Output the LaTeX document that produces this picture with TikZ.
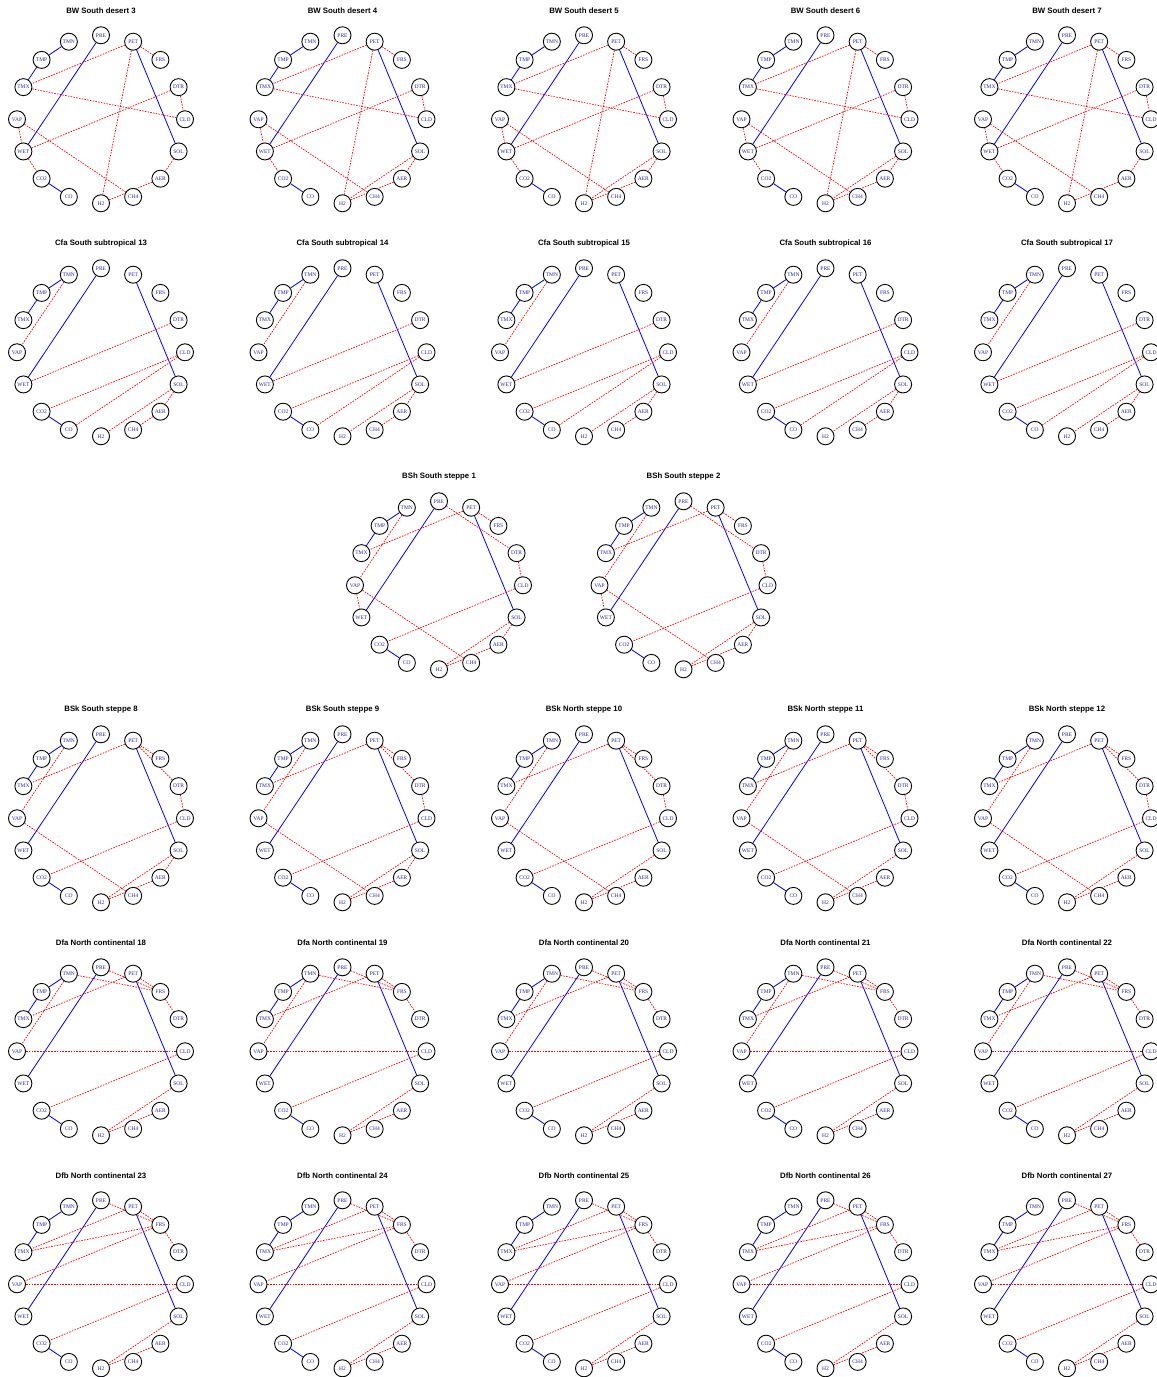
\documentclass[tikz,border=0pt]{standalone}
\usepackage{fontspec}
\setmainfont{Liberation Serif}
\newfontfamily\titlefont{Liberation Sans}
\pgfdeclarelayer{edges}
\pgfsetlayers{edges,main}
\definecolor{lbl}{RGB}{40,40,170}
\tikzset{
 vnode/.style={circle,draw=black,line width=0.9pt,fill=white,minimum size=17pt,inner sep=0pt,font=\fontsize{5.5}{6}\selectfont,text=lbl},
 bedge/.style={draw=blue,line width=0.8pt},
 redge/.style={draw=red,line width=0.7pt,dash pattern=on 1.6pt off 1.2pt},
 ptitle/.style={font=\titlefont\bfseries\fontsize{7.8}{9}\selectfont,inner sep=0pt}
}
\def\blu{TMN/TMP,TMP/TMX,PRE/WET,PET/SOL,CO2/CO}
\def\redDa{PET/TMX,TMX/CLD,PET/FRS,PET/H2,DTR/CLD,DTR/WET,VAP/WET,VAP/CH4,WET/CO2,SOL/AER,AER/H2}
\def\redDb{PET/TMX,TMX/CLD,PET/FRS,PET/H2,DTR/CLD,DTR/WET,VAP/WET,VAP/CH4,WET/CO2,SOL/H2,SOL/AER,AER/H2}
\def\redC{TMN/VAP,DTR/WET,CLD/CO2,CLD/CO,SOL/H2,SOL/AER,AER/CH4}
\def\redH{TMN/VAP,PET/TMX,PRE/DTR,PET/FRS,DTR/CLD,VAP/WET,VAP/CH4,CLD/CO2,SOL/H2,SOL/AER,AER/H2}
\def\redKa{TMN/VAP,PET/TMX,PET/FRS,PET/DTR,DTR/CLD,VAP/CH4,CLD/CO2,SOL/H2,SOL/AER,AER/H2}
\def\redKb{TMN/VAP,PET/TMX,PET/FRS,PET/DTR,DTR/CLD,VAP/CH4,CLD/CO2,SOL/H2,AER/H2}
\def\redFa{TMN/FRS,PRE/FRS,PET/TMX,PET/FRS,FRS/DTR,TMN/VAP,VAP/CLD,CLD/CO2,SOL/H2,AER/H2}
\def\redFb{PRE/FRS,PET/TMX,FRS/TMX,FRS/VAP,PET/FRS,FRS/DTR,VAP/CLD,CLD/CO2,SOL/H2,AER/H2}
\newcommand\gpanel[6]{%
 \begin{scope}[shift={(#2,{1377-#3})}]
  \node[ptitle] (#1title) at (0,109) {#4};
  \foreach \n/\a in {PRE/90,PET/67.5,FRS/45,DTR/22.5,CLD/0,SOL/-22.5,AER/-45,CH4/-67.5,H2/-90,CO/-112.5,CO2/-135,WET/-157.5,VAP/180,TMX/157.5,TMP/135,TMN/112.5}
   \node[vnode] (#1\n) at (\a:84) {\n};
  \begin{pgfonlayer}{edges}
   \foreach \u/\v in #5 \draw[bedge] (#1\u) -- (#1\v);
   \foreach \u/\v in #6 \draw[redge] (#1\u) -- (#1\v);
  \end{pgfonlayer}
 \end{scope}}
\begin{document}
\begin{tikzpicture}[x=1pt,y=1pt]
\useasboundingbox (0,0) rectangle (1157,1377);
% row 1
\gpanel{a1}{101}{119.3}{BW South desert 3}{\blu}{\redDa}
\gpanel{a2}{342.5}{119.3}{BW South desert 4}{\blu}{\redDb}
\gpanel{a3}{584}{119.3}{BW South desert 5}{\blu}{\redDb}
\gpanel{a4}{825.5}{119.3}{BW South desert 6}{\blu}{\redDb}
\gpanel{a5}{1067}{119.3}{BW South desert 7}{\blu}{\redDa}
% row 2
\gpanel{b1}{101}{352.3}{Cfa South subtropical 13}{\blu}{\redC}
\gpanel{b2}{342.5}{352.3}{Cfa South subtropical 14}{\blu}{\redC}
\gpanel{b3}{584}{352.3}{Cfa South subtropical 15}{\blu}{\redC}
\gpanel{b4}{825.5}{352.3}{Cfa South subtropical 16}{\blu}{\redC}
\gpanel{b5}{1067}{352.3}{Cfa South subtropical 17}{\blu}{\redC}
% row 3
\gpanel{c1}{439}{585.3}{BSh South steppe 1}{\blu}{\redH}
\gpanel{c2}{683.5}{585.3}{BSh South steppe 2}{\blu}{\redH}
% row 4
\gpanel{d1}{101}{818.3}{BSk South steppe 8}{\blu}{\redKa}
\gpanel{d2}{342.5}{818.3}{BSk South steppe 9}{\blu}{\redKa}
\gpanel{d3}{584}{818.3}{BSk North steppe 10}{\blu}{\redKb}
\gpanel{d4}{825.5}{818.3}{BSk North steppe 11}{\blu}{\redKb}
\gpanel{d5}{1067}{818.3}{BSk North steppe 12}{\blu}{\redKb}
% row 5
\gpanel{e1}{101}{1051.3}{Dfa North continental 18}{\blu}{\redFa}
\gpanel{e2}{342.5}{1051.3}{Dfa North continental 19}{\blu}{\redFa}
\gpanel{e3}{584}{1051.3}{Dfa North continental 20}{\blu}{\redFa}
\gpanel{e4}{825.5}{1051.3}{Dfa North continental 21}{\blu}{\redFa}
\gpanel{e5}{1067}{1051.3}{Dfa North continental 22}{\blu}{\redFa}
% row 6
\gpanel{f1}{101}{1284.3}{Dfb North continental 23}{\blu}{\redFb}
\gpanel{f2}{342.5}{1284.3}{Dfb North continental 24}{\blu}{\redFb}
\gpanel{f3}{584}{1284.3}{Dfb North continental 25}{\blu}{\redFb}
\gpanel{f4}{825.5}{1284.3}{Dfb North continental 26}{\blu}{\redFb}
\gpanel{f5}{1067}{1284.3}{Dfb North continental 27}{\blu}{\redFb}
\end{tikzpicture}
\end{document}
